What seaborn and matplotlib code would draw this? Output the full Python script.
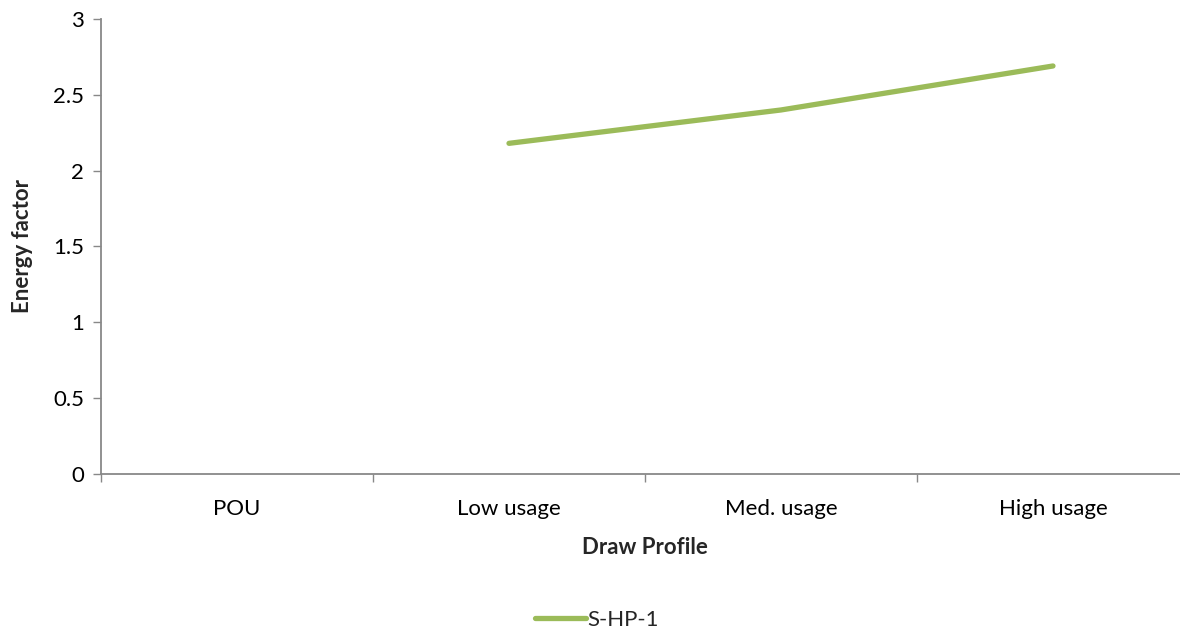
import numpy as np
import pandas as pd
import matplotlib
matplotlib.use("Agg")
import matplotlib.pyplot as plt
import seaborn as sns

# data
profiles = ["POU", "Low usage", "Med. usage", "High usage"]
shp1_values = [np.nan, 2.18, 2.40, 2.69]
y_ticks = [0, 0.5, 1, 1.5, 2, 2.5, 3]
y_tick_labels = ["0", "0.5", "1", "1.5", "2", "2.5", "3"]

sns.set_theme(style="white")
plt.rcParams["font.family"] = ["Lato", "DejaVu Sans"]

df = pd.DataFrame({"pos": np.arange(len(profiles)), "profile": profiles,
                   "Energy factor": shp1_values, "series": "S-HP-1"})

fig = plt.figure(figsize=(11.8, 6.32), dpi=100)
ax = fig.add_axes([0.0856, 0.25, 0.922, 0.72])

sns.lineplot(data=df, x="pos", y="Energy factor", hue="series",
             palette=["#9BBB59"], linewidth=3.8, ax=ax,
             solid_capstyle="round", legend=True)

fs = 16
ax.set_xlim(-0.5, 3.5)
ax.set_ylim(0, 3)
ax.set_yticks(y_ticks)
ax.set_yticklabels(y_tick_labels, fontsize=fs)
ax.set_xticks(df["pos"])
ax.set_xticklabels(profiles, fontsize=fs)
ax.set_xticks(np.arange(-0.5, 4, 1), minor=True)
ax.tick_params(axis="x", which="major", length=0, pad=18, colors="black")
ax.tick_params(axis="x", which="minor", length=6, width=1, color="#888888",
               direction="out", bottom=True)
ax.tick_params(axis="y", length=6, width=1, color="#888888", direction="out",
               left=True, pad=6)
for lbl in ax.get_yticklabels():
    lbl.set_color("black")

for side in ["top", "right"]:
    ax.spines[side].set_visible(False)
for side in ["left", "bottom"]:
    ax.spines[side].set_color("#888888")
    ax.spines[side].set_linewidth(1.3)

ax.set_xlabel("Draw Profile", fontsize=fs, fontweight="bold", labelpad=13)
ax.set_ylabel("Energy factor", fontsize=fs, fontweight="bold", labelpad=15)

handles, labels = ax.get_legend_handles_labels()
ax.legend(handles, labels, loc="center", bbox_to_anchor=(597 / 1180, 12 / 632),
          bbox_transform=fig.transFigure, frameon=False, fontsize=fs,
          handlelength=2.3, handletextpad=0.05)

fig.savefig("out.png", dpi=100)
